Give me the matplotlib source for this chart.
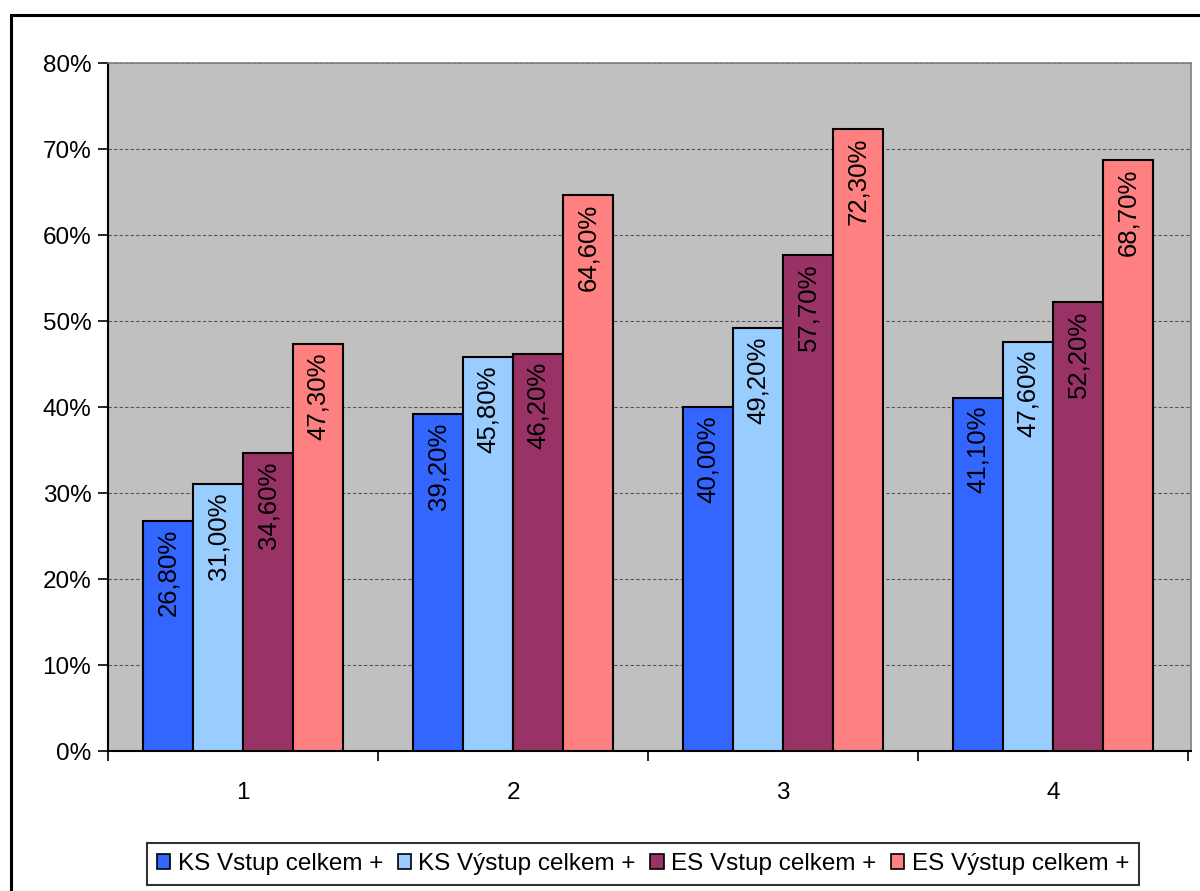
import matplotlib
matplotlib.use("Agg")
import matplotlib.pyplot as plt
from matplotlib.patches import Rectangle
from matplotlib.ticker import FuncFormatter, MultipleLocator
import numpy as np

plt.rcParams['font.family'] = ['Liberation Sans', 'DejaVu Sans']

categories = ["1", "2", "3", "4"]
series_names = ["KS Vstup celkem +", "KS Výstup celkem +",
                "ES Vstup celkem +", "ES Výstup celkem +"]
ks_vstup = [26.8, 39.2, 40.0, 41.1]
ks_vystup = [31.0, 45.8, 49.2, 47.6]
es_vstup = [34.6, 46.2, 57.7, 52.2]
es_vystup = [47.3, 64.6, 72.3, 68.7]
colors = ["#3366FF", "#99CCFF", "#993366", "#FF8080"]

series = [ks_vstup, ks_vystup, es_vstup, es_vystup]

fig = plt.figure(figsize=(12, 8.91), dpi=100)
ax = fig.add_axes([108/1200, 1 - 751/891, (1191 - 108)/1200, (751 - 63)/891])
ax.set_facecolor("#C0C0C0")

# outer chart frame
fig.patches.append(Rectangle((11/1200, -0.05), 1.05, 1 - 15/891 + 0.05,
                             transform=fig.transFigure, fill=False,
                             edgecolor="black", linewidth=2.2, zorder=0))

x = np.arange(1, len(categories) + 1)
width = 0.185
for i, (vals, col, name) in enumerate(zip(series, colors, series_names)):
    pos = x + (i - 1.5) * width
    bars = ax.bar(pos, vals, width=width, color=col, edgecolor="black",
                  linewidth=1.5, label=name, zorder=3)
    for b, v in zip(bars, vals):
        ax.annotate(f"{v:.2f}%".replace(".", ","),
                    xy=(b.get_x() + b.get_width()/2, v),
                    xytext=(0, -6), textcoords="offset points",
                    rotation=90, ha="center", va="top", fontsize=18.5,
                    zorder=4)

ax.set_ylim(0, 80)
ax.set_xlim(0.5, 4.51)
ax.yaxis.set_major_locator(MultipleLocator(10))
ax.yaxis.set_major_formatter(FuncFormatter(lambda v, p: f"{v:.0f}%"))
ax.grid(axis="y", color="#555555", linestyle=(0, (3, 2)), linewidth=0.8, zorder=1)
ax.set_axisbelow(True)

ax.set_xticks(x)
ax.set_xticklabels(categories)
ax.set_xticks(np.arange(0.5, 5.0, 1.0), minor=True)
ax.tick_params(axis="x", which="major", length=0, pad=22, labelsize=17.5)
ax.tick_params(axis="x", which="minor", length=7, width=1.2, direction="out")
ax.tick_params(axis="y", length=7, width=1.2, direction="out", labelsize=17.5, pad=5)

ax.spines["left"].set_linewidth(1.5)
ax.spines["bottom"].set_linewidth(1.5)
ax.spines["top"].set_color("#808080")
ax.spines["right"].set_color("#808080")
ax.spines["top"].set_linewidth(1.2)
ax.spines["right"].set_linewidth(1.2)

leg = fig.legend(loc="center", bbox_to_anchor=(643/1200, 1 - 864/891), ncol=4,
                 frameon=True, fancybox=False, fontsize=17.5,
                 handlelength=0.55, handleheight=0.55, handletextpad=0.3,
                 columnspacing=0.6, borderpad=0.4, borderaxespad=0)
leg.get_frame().set_edgecolor("black")
leg.get_frame().set_linewidth(1.5)
for h in leg.legend_handles:
    h.set_linewidth(1.2)

fig.savefig("out.png", dpi=100)
